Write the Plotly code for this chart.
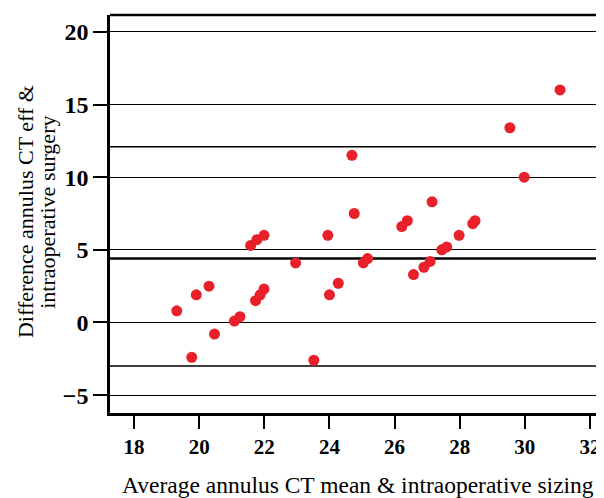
import plotly.graph_objects as go

# Data
avg_size = [31.08, 29.54, 24.69, 29.98, 27.15, 24.76, 26.22, 26.39, 28.40, 28.47,
            27.98, 27.60, 27.45, 27.09, 26.90, 26.58, 25.17, 25.04, 24.27, 24.00,
            23.95, 23.52, 22.96, 21.99, 21.77, 21.58, 21.99, 21.87, 21.73, 21.25,
            21.08, 20.47, 20.30, 19.91, 19.31, 19.77]
difference = [16.0, 13.4, 11.5, 10.0, 8.3, 7.5, 6.6, 7.0, 6.8, 7.0,
              6.0, 5.2, 5.0, 4.2, 3.8, 3.3, 4.4, 4.1, 2.7, 1.9,
              6.0, -2.6, 4.1, 6.0, 5.7, 5.3, 2.3, 1.9, 1.5, 0.4,
              0.1, -0.8, 2.5, 1.9, 0.8, -2.4]
mean_diff = 4.4
upper_loa = 12.1
lower_loa = -3.0
x_ticks = [18, 20, 22, 24, 26, 28, 30, 32]
y_ticks = [-5, 0, 5, 10, 15, 20]
x_title = "Average annulus CT mean & intraoperative sizing"
y_title_lines = ["Difference annulus CT eff &", "intraoperative surgery"]

serif = "Liberation Serif"

fig = go.Figure()
fig.add_trace(go.Scatter(
    x=avg_size, y=difference, mode="markers",
    marker=dict(color="#e8202a", size=11, line=dict(width=0)),
    showlegend=False, cliponaxis=False,
))

for v, w in [(upper_loa, 1.5), (mean_diff, 2.5), (lower_loa, 1.5)]:
    fig.add_shape(type="line", xref="paper", yref="y", x0=0, x1=1, y0=v, y1=v,
                  line=dict(color="black", width=w), layer="below")

fig.add_shape(type="line", xref="paper", yref="paper", x0=0, x1=1, y0=1, y1=1,
              line=dict(color="black", width=2.5))

fig.add_annotation(text=x_title, xref="paper", yref="paper", x=0.502, y=-0.182,
                   xanchor="center", yanchor="middle", showarrow=False,
                   font=dict(family=serif, size=23.5, color="black"))
for txt, xp in zip(y_title_lines, [-0.172, -0.128]):
    fig.add_annotation(text=txt, xref="paper", yref="paper", x=xp, y=0.505,
                       xanchor="center", yanchor="middle", showarrow=False, textangle=-90,
                       font=dict(family=serif, size=22, color="black"))

# the page body adds an 8px margin, so the figure is sized to fit the window
fig.update_layout(
    width=596, height=490,
    margin=dict(l=102, r=0, t=7, b=85),
    paper_bgcolor="white", plot_bgcolor="white",
    font=dict(family=serif, color="black"),
    xaxis=dict(
        range=[17.26, 32.43], tickvals=x_ticks, ticktext=[str(t) for t in x_ticks],
        showgrid=False, zeroline=False, automargin=False,
        showline=True, linecolor="black", linewidth=2.5,
        ticks="outside", ticklen=13, tickwidth=2, tickcolor="black",
        tickfont=dict(family=serif, size=21, color="black", weight="bold"),
    ),
    yaxis=dict(
        range=[-6.23, 21.16], tickvals=y_ticks, ticktext=["\u22125", "0", "5", "10", "15", "20"],
        showgrid=True, gridcolor="black", gridwidth=1.3, zeroline=False, automargin=False,
        showline=True, linecolor="black", linewidth=2.5,
        ticks="outside", ticklen=14, tickwidth=2, tickcolor="black",
        tickfont=dict(family=serif, size=24, color="black", weight="bold"),
    ),
)

fig.write_html("out.html")
